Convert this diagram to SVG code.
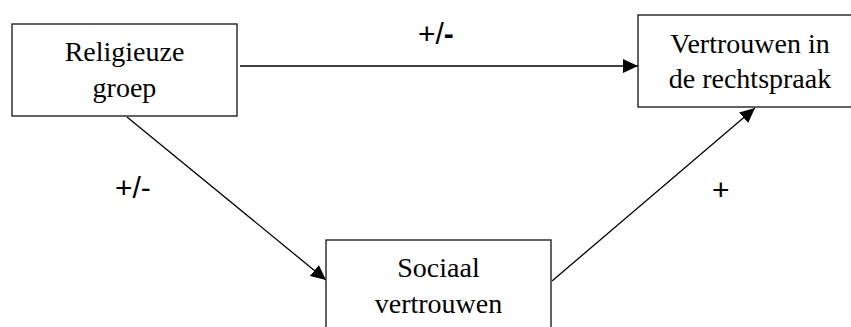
<svg xmlns="http://www.w3.org/2000/svg" width="851" height="327" viewBox="0 0 851 327">
<style>
.box{fill:#fff;stroke:#222;stroke-width:1.4}
.t{font-family:"Liberation Serif","Times New Roman",serif;font-size:28px;fill:#000;text-anchor:middle}
.lbl{font-family:"Liberation Sans",Arial,sans-serif;font-size:30px;fill:#000}
.c{stroke:#000;stroke-width:1.3;fill:none}
</style>
<defs>
<marker id="ah" markerWidth="16" markerHeight="14" refX="15" refY="7" orient="auto" markerUnits="userSpaceOnUse">
<path d="M0,0 L15,7 L0,14 Z" fill="#000"/>
</marker>
</defs>
<rect width="851" height="327" fill="#fff"/>
<g id="connectors">
<line class="c" x1="240" y1="66" x2="638" y2="66" marker-end="url(#ah)"/>
<line class="c" x1="127" y1="117" x2="326" y2="280" marker-end="url(#ah)"/>
<line class="c" x1="552" y1="281" x2="755" y2="108" marker-end="url(#ah)"/>
</g>
<g id="labels">
<text class="lbl" x="418" y="44">+/<tspan font-weight="bold">-</tspan></text>
<text class="lbl" x="115" y="198">+/-</text>
<text class="lbl" x="712" y="200">+</text>
</g>
<g id="religieuze-groep">
<rect class="box" x="12" y="24" width="225" height="92"/>
<text class="t" x="124.5" y="61">Religieuze</text>
<text class="t" x="124.5" y="97">groep</text>
</g>
<g id="vertrouwen-rechtspraak">
<rect class="box" x="638" y="15" width="225" height="92"/>
<text class="t" x="750" y="53">Vertrouwen in</text>
<text class="t" x="750" y="88">de rechtspraak</text>
</g>
<g id="sociaal-vertrouwen">
<rect class="box" x="326" y="240" width="225" height="92"/>
<text class="t" x="438.5" y="277">Sociaal</text>
<text class="t" x="438.5" y="313">vertrouwen</text>
</g>
</svg>
